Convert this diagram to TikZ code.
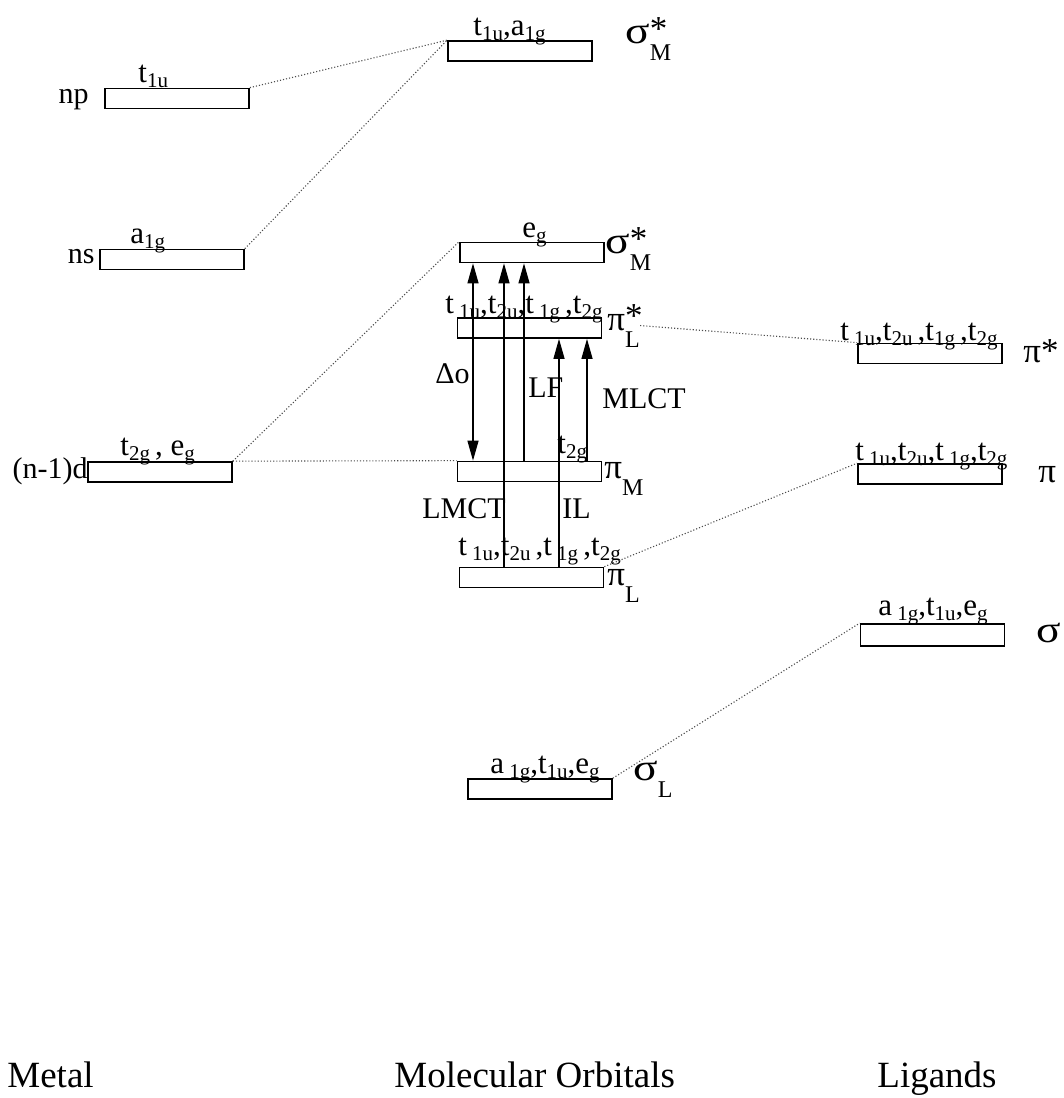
\documentclass[tikz,border=0pt]{standalone}
\usepackage{fontspec}
\setmainfont{Liberation Serif}
\usetikzlibrary{arrows.meta}
\newcommand\orbs[1]{\raisebox{-2.5pt}{\fontsize{10.5pt}{10.5pt}\selectfont #1}}
\newcommand\grlab[3]{#1\rlap{\raisebox{1.5pt}{#2}}\raisebox{-8.5pt}{\fontsize{12pt}{12pt}\selectfont #3}}
\newcommand\wsig{\scalebox{1.3}[1.08]{σ}}
\begin{document}
\begin{tikzpicture}[x=0.5pt,y=-0.5pt,
  orb/.style={draw, line width=0.85pt, inner sep=0pt, minimum width=72pt, minimum height=10pt},
  lbl/.style={inner sep=0pt, anchor=base west, font=\fontsize{15pt}{17pt}\selectfont},
  olbl/.style={inner sep=0pt, anchor=base west, font=\fontsize{15.5pt}{17pt}\selectfont},
  glbl/.style={inner sep=0pt, anchor=base west, font=\fontsize{17.5pt}{19pt}\selectfont},
  blbl/.style={inner sep=0pt, anchor=base west, font=\fontsize{18.5pt}{21pt}\selectfont},
  corr/.style={densely dotted, line width=0.55pt, black!70},
  trans/.style={line width=0.6pt, -{Triangle[length=10pt,width=5.5pt]}},
  transboth/.style={line width=0.6pt, {Triangle[length=10pt,width=5.5pt]}-{Triangle[length=10pt,width=5.5pt]}},
]
\fill[white] (0,0) rectangle (1064,1098);
\useasboundingbox (0,0) rectangle (1064,1098);

% ---- orbital boxes ----
\node[orb] (np) at (177,98.5) {};
\node[orb] (ns) at (172,259.5) {};
\node[orb] (d) at (160,472) {};
\node[orb] (sigMtop) at (520,51) {};
\node[orb] (sigM) at (532,252.5) {};
\node[orb] (piLs) at (529.5,328) {};
\node[orb] (piM) at (529.5,471.5) {};
\node[orb] (piL) at (531.5,577.5) {};
\node[orb] (sigL) at (540,789) {};
\node[orb] (pistarR) at (930,353.5) {};
\node[orb] (piR) at (930,474) {};
\node[orb, minimum height=11pt] (sigR) at (932.5,635) {};

% ---- metal labels ----
\node[lbl, anchor=base east] (nplab) at (89,103) {np};
\node[lbl, anchor=base east] (nslab) at (95,263) {ns};
\node[lbl, anchor=base east] (dlab) at (88,478) {(n-1)d};

% ---- symmetry labels ----
\node[olbl] (npsym) at (138,82) {t\orbs{1u}};
\node[olbl] (nssym) at (130,243) {a\orbs{1g}};
\node[olbl] (topsym) at (473,35) {t\orbs{1u},a\orbs{1g}};
\node[olbl] (dsym) at (120,455) {t\orbs{2g}\,, e\orbs{g}};
\node[olbl] (egsym) at (522,237) {e\orbs{g}};
\node[olbl] (piLssym) at (445,313) {t\,\orbs{1u},t\orbs{2u},t\,\orbs{1g}\,,t\orbs{2g}};
\node[olbl] (piMsym) at (557,453) {t\orbs{2g}};
\node[olbl] (piLsym) at (458,555) {t\,\orbs{1u},t\orbs{2u}\,,t\,\orbs{1g}\,,t\orbs{2g}};
\node[olbl] (sigLsym) at (490,773) {a\,\orbs{1g},t\orbs{1u},e\orbs{g}};
\node[olbl] (pistarRsym) at (840,340) {t\,\orbs{1u},t\orbs{2u}\,,t\orbs{1g}\,,t\orbs{2g}};
\node[olbl] (piRsym) at (855,460) {t\,\orbs{1u},t\orbs{2u},t\,\orbs{1g},t\orbs{2g}};
\node[olbl] (sigRsym) at (878,615) {a\,\orbs{1g},t\orbs{1u},e\orbs{g}};

% ---- greek labels ----
\node[glbl] (sigMtoplab) at (625,43) {\grlab{\wsig}{*}{M}};
\node[glbl] (sigMlab) at (605,253) {\grlab{\wsig}{*}{M}};
\node[glbl] (piLslab) at (607,330) {\grlab{π}{*}{L}};
\node[glbl] (piMlab) at (604,478) {\grlab{π}{}{M}};
\node[glbl] (piLlab) at (607,585) {\grlab{π}{}{L}};
\node[glbl] (sigLlab) at (633,780) {\grlab{\wsig}{}{L}};
\node[glbl] (pistarRlab) at (1023,362) {π*};
\node[glbl] (piRlab) at (1038,482) {π};
\node[glbl] (sigRlab) at (1036,642) {\wsig};

% ---- transition labels ----
\node[lbl] (deltalab) at (435,383) {Δo};
\node[lbl] (lflab) at (528,397) {LF};
\node[lbl] (mlctlab) at (602,408) {MLCT};
\node[lbl] (lmctlab) at (422,518) {LMCT};
\node[lbl] (illab) at (562,518) {IL};

% ---- column titles ----
\node[blbl] (metal) at (7,1087) {Metal};
\node[blbl] (mo) at (394,1087) {Molecular Orbitals};
\node[blbl] (lig) at (877,1087) {Ligands};

% ---- correlation lines ----
\draw[corr] (np.north east) -- (sigMtop.north west);
\draw[corr] (ns.north east) -- (sigMtop.north west);
\draw[corr] (d.north east) -- (sigM.north west);
\draw[corr] (d.north east) -- (piM.north west);
\draw[corr] (piLslab.east) -- (pistarR.north west);
\draw[corr] (piL.north east) -- (piR.north west);
\draw[corr] (sigL.north east) -- (sigR.north west);

% ---- transitions ----
\coordinate (xD) at (473,0);
\coordinate (xLMCT) at (504,0);
\coordinate (xLF) at (524,0);
\coordinate (xIL) at (559,0);
\coordinate (xMLCT) at (587,0);
\draw[transboth] (sigM.south -| xD) -- (piM.north -| xD);
\draw[trans] (piL.north -| xLMCT) -- (sigM.south -| xLMCT);
\draw[trans] (piM.north -| xLF) -- (sigM.south -| xLF);
\draw[trans] (piL.north -| xIL) -- (piLs.south -| xIL);
\draw[trans] (piM.north -| xMLCT) -- (piLs.south -| xMLCT);
\end{tikzpicture}
\end{document}
